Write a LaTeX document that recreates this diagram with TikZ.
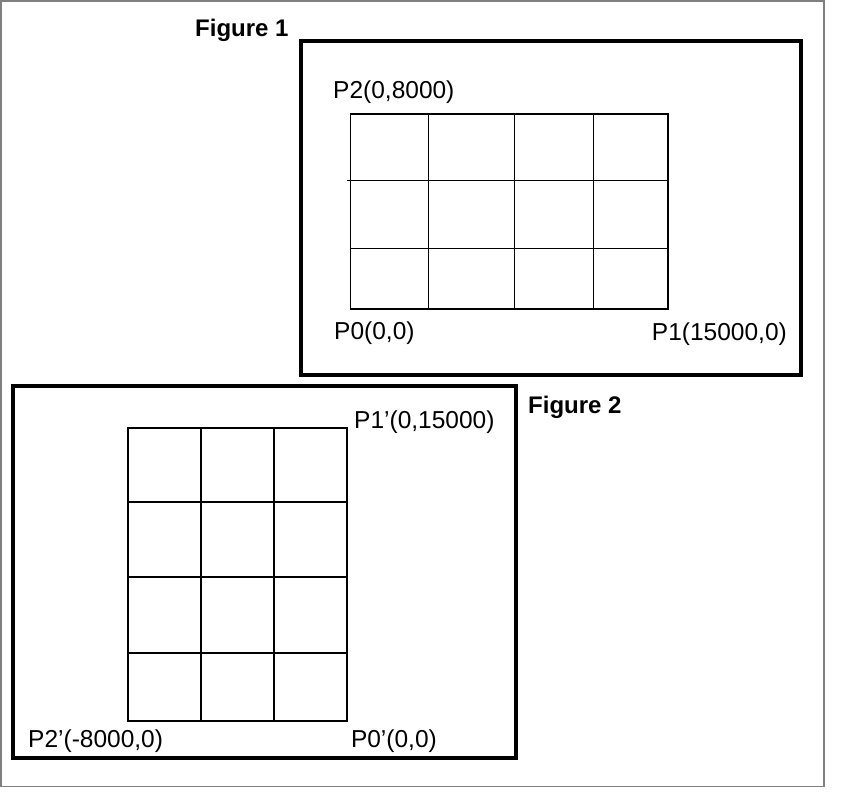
\documentclass[tikz,border=0pt]{standalone}
\usepackage{fontspec}
\setmainfont{Liberation Sans}
\begin{document}
\begin{tikzpicture}[x=1pt,y=-1pt,
  frame/.style={draw,line width=4pt},
  lbl/.style={inner sep=0pt,font=\fontsize{24.5}{29}\selectfont},
  ttl/.style={inner sep=0pt,font=\fontsize{24}{29}\selectfont\bfseries}]
\useasboundingbox (0,0) rectangle (848,796);
\path[draw,gray,line width=1.8pt] (1,1) rectangle (824.3,786.5);

\node[ttl,anchor=base west] (t1) at (195,36) {Figure 1};
\path[frame] (300.5,41) rectangle (801,375);
\path[draw,line width=1.8pt] (350.5,114) rectangle (667.7,309.3);
\path[draw,line width=1pt] (347,180.3) -- (667.7,180.3);
\path[draw,line width=1pt] (350.5,248.7) -- (667.7,248.7);
\path[draw,line width=1pt] (428.7,114) -- (428.7,309.3);
\path[draw,line width=1pt] (514.3,114) -- (514.3,309.3);
\path[draw,line width=1pt] (593.3,114) -- (593.3,309.3);
\node[lbl,anchor=base west] (p2) at (333,98) {P2(0,8000)};
\node[lbl,anchor=base west] (p0) at (334,339) {P0(0,0)};
\node[lbl,anchor=base east] (p1) at (787,340) {P1(15000,0)};

\node[ttl,anchor=base west] (t2) at (528,413) {Figure 2};
\path[frame] (13,386) rectangle (515.5,757.5);
\path[draw,line width=1.8pt] (128.3,427.7) rectangle (347.3,720.7);
\path[draw,line width=1.8pt] (128.3,502.3) -- (347.3,502.3);
\path[draw,line width=1.8pt] (128.3,577.3) -- (347.3,577.3);
\path[draw,line width=1.8pt] (128.3,652.7) -- (347.3,652.7);
\path[draw,line width=1.8pt] (201,427.7) -- (201,720.7);
\path[draw,line width=1.8pt] (274,427.7) -- (274,720.7);
\node[lbl,anchor=base west] (q1) at (354,428) {P1'(0,15000)};
\node[lbl,anchor=base west] (q2) at (28,747) {P2'(-8000,0)};
\node[lbl,anchor=base east] (q0) at (437,747) {P0'(0,0)};
\end{tikzpicture}
\end{document}
